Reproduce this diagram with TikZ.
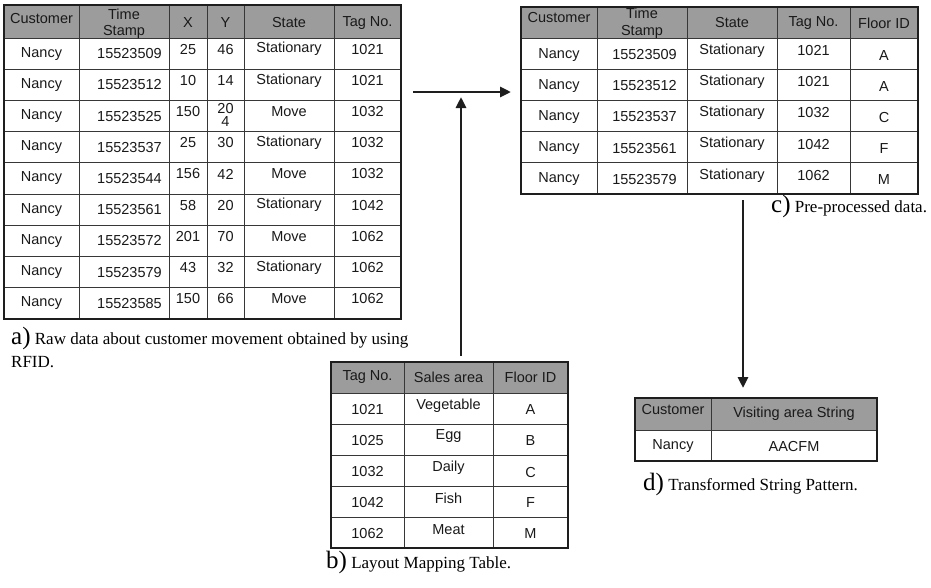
\documentclass[tikz,border=0pt]{standalone}
\usepackage{fontspec}
\setmainfont{Liberation Serif}
\newfontfamily\cellfont{Liberation Sans}
\usetikzlibrary{arrows.meta}

\definecolor{headgray}{RGB}{156,156,156}
\definecolor{framecol}{RGB}{30,30,30}
\definecolor{rulecol}{RGB}{55,55,55}

\tikzset{
  cell/.style={font=\cellfont\fontsize{14.5}{14.5}\selectfont, inner sep=0pt, anchor=center, text=black!90},
  headfill/.style={fill=headgray},
  frame/.style={line width=2.6pt, draw=framecol},
  rule/.style={line width=0.9pt, draw=rulecol},
  flow/.style={line width=2.8pt, draw=framecol, -{Triangle[length=11pt,width=10pt]}},
  caption/.style={font=\fontsize{17}{20}\selectfont, anchor=base west, inner sep=0pt},
}
\newcommand\captag[1]{{\fontsize{25}{25}\selectfont #1}}

\begin{document}
\begin{tikzpicture}[x=1pt,y=-1pt]
\useasboundingbox (0,0) rectangle (931,587);

% ---------- a) raw RFID data ----------
\fill[headfill] (4,5) rectangle (401,38);
\foreach \yy in {69.2,100.4,131.7,162.9,194.1,225.3,256.5,287.8}
  \draw[rule] (4,\yy) -- (401,\yy);
\draw[rule] (4,38) -- (401,38);
\foreach \xx in {79,169,207,244,334}
  \draw[rule] (\xx,5) -- (\xx,319);
\draw[frame] (4,5) rectangle (401,319);

\node[cell] (ah1) at (41.5,18.5) {Customer};
\node[cell,anchor=base] (ah2a) at (124,19) {Time};
\node[cell,anchor=base] (ah2b) at (124,35) {Stamp};
\node[cell] (ah3) at (188,23) {X};
\node[cell] (ah4) at (225.5,23) {Y};
\node[cell] (ah5) at (289,23) {State};
\node[cell] (ah6) at (367.5,23) {Tag No.};

\foreach [count=\i] \cu/\ts/\px/\py/\st/\tg in {
  Nancy/15523509/25/46/Stationary/1021,
  Nancy/15523512/10/14/Stationary/1021,
  Nancy/15523525/150/20/Move/1032,
  Nancy/15523537/25/30/Stationary/1032,
  Nancy/15523544/156/42/Move/1032,
  Nancy/15523561/58/20/Stationary/1042,
  Nancy/15523572/201/70/Move/1062,
  Nancy/15523579/43/32/Stationary/1062,
  Nancy/15523585/150/66/Move/1062} {
  \pgfmathsetmacro\cy{38+31.22*(\i-0.5)}
  \pgfmathsetmacro\uy{\cy-4.5}
  \node[cell] (a-\i-1) at (41.5,\cy) {\cu};
  \node[cell] (a-\i-2) at (129.5,\cy) {\ts};
  \node[cell] (a-\i-3) at (188,\uy) {\px};
  \ifnum\i=3
    \node[cell] (a-\i-4) at (225.5,\cy-8) {\py};
  \else
    \node[cell] (a-\i-4) at (225.5,\uy) {\py};
  \fi
  \node[cell] (a-\i-5) at (289,\uy) {\st};
  \node[cell] (a-\i-6) at (367.5,\uy) {\tg};
}
\node[cell] (a-3-4b) at (225.5,121.5) {4};

\node[caption] (capa1) at (11,344) {\captag{a)} Raw data about customer movement obtained by using};
\node[caption] (capa2) at (11,367) {RFID.};

% ---------- b) layout mapping table ----------
\fill[headfill] (331,362) rectangle (568,393);
\foreach \yy in {393,424,455,486,517}
  \draw[rule] (331,\yy) -- (568,\yy);
\foreach \xx in {404,493}
  \draw[rule] (\xx,362) -- (\xx,548);
\draw[frame] (331,362) rectangle (568,548);

\node[cell] (bh1) at (367.5,377.5) {Tag No.};
\node[cell] (bh2) at (448.5,377.5) {Sales area};
\node[cell] (bh3) at (530.5,377.5) {Floor ID};
\foreach [count=\i] \tg/\ar/\fl in {1021/Vegetable/A,1025/Egg/B,1032/Daily/C,1042/Fish/F,1062/Meat/M} {
  \pgfmathsetmacro\cy{393+31*(\i-0.5)}
  \node[cell] (b-\i-1) at (367.5,\cy+0.5) {\tg};
  \node[cell] (b-\i-2) at (448.5,\cy-3) {\ar};
  \node[cell] (b-\i-3) at (530.5,\cy+1.5) {\fl};
}
\node[caption] (capb) at (326,568) {\captag{b)} Layout Mapping Table.};

% ---------- c) pre-processed data ----------
\fill[headfill] (521,7) rectangle (918,38);
\foreach \yy in {38,69.2,100.4,131.6,162.8}
  \draw[rule] (521,\yy) -- (918,\yy);
\foreach \xx in {597,687,777,850}
  \draw[rule] (\xx,7) -- (\xx,194);
\draw[frame] (521,7) rectangle (918,194);

\node[cell] (ch1) at (559,17.5) {Customer};
\node[cell,anchor=base] (ch2a) at (642,18) {Time};
\node[cell,anchor=base] (ch2b) at (642,35) {Stamp};
\node[cell] (ch3) at (732,23) {State};
\node[cell] (ch4) at (813.5,23) {Tag No.};
\node[cell] (ch5) at (884,23) {Floor ID};
\foreach [count=\i] \ts/\tg/\fl in {15523509/1021/A,15523512/1021/A,15523537/1032/C,15523561/1042/F,15523579/1062/M} {
  \pgfmathsetmacro\cy{38+31.2*(\i-0.5)}
  \node[cell] (c-\i-1) at (559,\cy+1) {Nancy};
  \node[cell] (c-\i-2) at (644.5,\cy+1) {\ts};
  \node[cell] (c-\i-3) at (732,\cy-3) {Stationary};
  \node[cell] (c-\i-4) at (813.5,\cy-3) {\tg};
  \node[cell] (c-\i-5) at (884,\cy+1.5) {\fl};
}
\node[caption] (capc) at (771,212) {\captag{c)} Pre-processed data.};

% ---------- d) transformed string pattern ----------
\fill[headfill] (635,398) rectangle (877,430);
\draw[rule] (635,430) -- (877,430);
\draw[rule] (711,398) -- (711,461);
\draw[frame] (635,398) rectangle (877,461);
\node[cell] (dh1) at (673,409) {Customer};
\node[cell] (dh2) at (794,414) {Visiting area String};
\node[cell] (d-1-1) at (673,446) {Nancy};
\node[cell] (d-1-2) at (794,446) {AACFM};
\node[caption] (capd) at (643,490) {\captag{d)} Transformed String Pattern.};

% ---------- flow arrows ----------
\coordinate (aout) at (413,92);
\coordinate (cin) at (511,92);
\coordinate (bout) at (461,356);
\coordinate (bin) at (461,97);
\coordinate (cout) at (743,200);
\coordinate (din) at (743,388);
\draw[flow] (aout) -- (cin);
\draw[flow] (bout) -- (bin);
\draw[flow] (cout) -- (din);
\end{tikzpicture}
\end{document}
